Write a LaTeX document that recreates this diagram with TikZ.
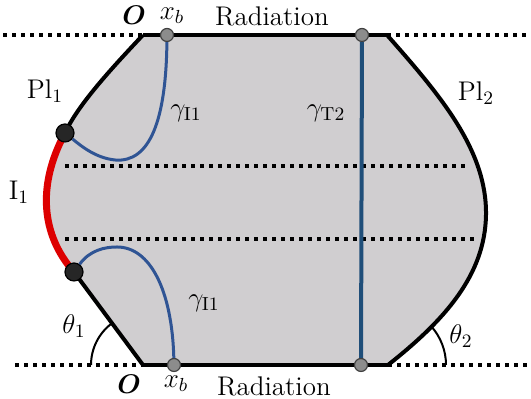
\RequirePackage{fix-cm}
\documentclass[tikz,border=0pt]{standalone}
\usepackage{amsmath,amssymb}
\usetikzlibrary{calc}
\def\wLight{1.0pt}
\def\wRegular{1.5pt}
\def\wStrong{2.0pt}
\definecolor{cFill}{HTML}{D0CED0}
\definecolor{cPath}{HTML}{2F5494}
\definecolor{cTrans}{HTML}{1F4E79}
\definecolor{cInt}{HTML}{DD0000}
\definecolor{cInk}{HTML}{000000}
\tikzset{
  geo/.style={every node/.style={font=\fontsize{13.5}{16}\selectfont, inner sep=1pt}},
  wall/.style={draw=cInk, line width=\wStrong, line join=round},
  iface/.style={draw=cInt, line width=3.5pt},
  sym/.style={draw=cInk, line width=\wStrong, dash pattern=on 2pt off 2.5pt},
  gam/.style={draw=cPath, line width=\wRegular},
  gamT/.style={draw=cTrans, line width=\wStrong},
  ang/.style={draw=cInk, line width=\wLight},
  junc/.style={circle, draw=cInk, line width=0.6pt, fill=black!85, minimum size=9pt, inner sep=0pt},
  foot/.style={circle, draw=black!75, line width=0.6pt, fill=black!45, minimum size=6.5pt, inner sep=0pt},
}

\begin{document}
\begin{tikzpicture}[geo, x=0.5pt, y=0.5pt]
\useasboundingbox (0,0) rectangle (531,399);
% corners of the domain (pixel grid, y up)
\coordinate (tl) at (143,364);
\coordinate (tr) at (387,364);
\coordinate (bl) at (143,34);
\coordinate (br) at (388,34);
\coordinate (rm) at (486,184);
\coordinate (q1) at (65,266);
\coordinate (q2) at (74,127);

% domain
\fill[cFill] (tl) -- (tr) .. controls (440,304) and (487,249) .. (rm)
  .. controls (485,124) and (445,79) .. (br) -- (bl) -- (q2)
  .. controls (41,164) and (37,214) .. (q1) .. controls (78,294) and (110,329) .. (tl) -- cycle;

% symmetry lines
\coordinate (sl1) at (3,364);   \coordinate (sr1) at (531,364);
\coordinate (sl2) at (15,34);   \coordinate (sr2) at (531,34);
\coordinate (ma) at (65,233);   \coordinate (mb) at (468,233);
\coordinate (mc) at (65,160);   \coordinate (md) at (478,160);
\draw[sym] (sl1) -- (tl);
\draw[sym] (tr) -- (sr1);
\draw[sym] (sl2) -- (bl);
\draw[sym] (br) -- (sr2);
\draw[sym] (ma) -- (mb);
\draw[sym] (mc) -- (md);

% boundaries
\draw[wall] (tl) -- (tr);
\draw[wall] (bl) -- (br);
\draw[wall] (tr) .. controls (440,304) and (487,249) .. (rm) .. controls (485,124) and (445,79) .. (br);
\draw[wall] (tl) .. controls (110,329) and (78,294) .. (q1);
\draw[wall] (q2) -- (bl);
\draw[iface] (q1) .. controls (37,214) and (41,164) .. (q2);

% angles
\draw[ang] ($(bl)+(-26pt,0)$) arc[start angle=180, end angle=126.6, radius=26pt];
\draw[ang] ($(br)+(29pt,0)$) arc[start angle=0, end angle=41, radius=29pt];

% points
\node[junc] (p1) at (q1) {};
\node[junc] (p2) at (q2) {};
\node[foot] (xt) at (167,364) {};
\node[foot] (xl) at (174,34) {};
\node[foot] (tt) at (362,364) {};
\node[foot] (tb) at (361,34) {};

% paths
\draw[gam] (xt) .. controls (166,279) and (150,236) .. (115,239) .. controls (95,241) and (80,254) .. (p1);
\draw[gam] (p2) .. controls (90,149) and (105,152) .. (117,152) .. controls (150,152) and (172,109) .. (xl);
\draw[gamT] (tt) -- (tb);

% labels
\node (ot)  at (134,384) {$\boldsymbol{O}$};
\node (xbt) at (172,383) {$x_b$};
\node (rt)  at (272,383) {Radiation};
\node (ob)  at (129,15)  {$\boldsymbol{O}$};
\node (xbb) at (176,15)  {$x_b$};
\node (rb)  at (274,13)  {Radiation};
\node (pl1) at (45,308)  {Pl$_1$};
\node (i1)  at (19,207)  {I$_1$};
\node (g1)  at (186,286) {$\gamma_{\mathrm{I1}}$};
\node (g2)  at (204,96)  {$\gamma_{\mathrm{I1}}$};
\node (g3)  at (326,286) {$\gamma_{\mathrm{T2}}$};
\node (pl2) at (476,306) {Pl$_2$};
\node (th1) at (74,73)   {$\theta_1$};
\node (th2) at (461,63)  {$\theta_2$};
\end{tikzpicture}
\end{document}
